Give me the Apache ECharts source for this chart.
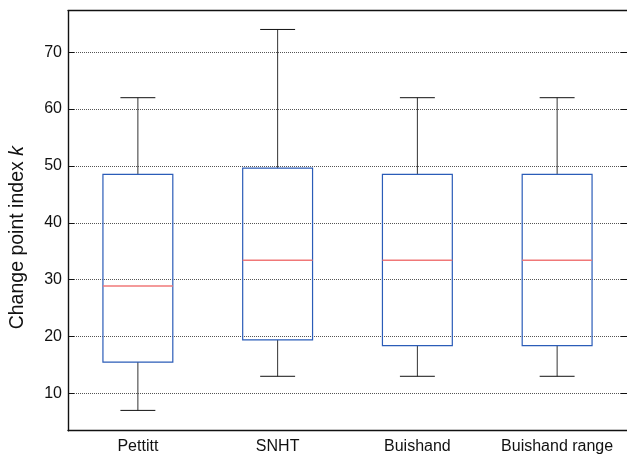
<!DOCTYPE html>
<html>
<head>
<meta charset="utf-8">
<script src="https://cdn.jsdelivr.net/npm/echarts@6/dist/echarts.min.js"></script>
<style>
html,body{margin:0;padding:0;background:#fff;overflow:hidden;}
#chart{width:627px;height:455px;}
</style>
</head>
<body>
<div id="chart"></div>
<script>
var categories = ['Pettitt', 'SNHT', 'Buishand', 'Buishand range'];
var lowerWhisker = [7, 13, 13, 13];
var q1 = [15.5, 19.4, 18.4, 18.4];
var medianVals = [28.9, 33.4, 33.4, 33.4];
var q3 = [48.5, 49.6, 48.5, 48.5];
var upperWhisker = [62, 74, 62, 62];
var yTicks = [10, 20, 30, 40, 50, 60, 70];

var data = categories.map(function (c, i) {
  return [i, lowerWhisker[i], q1[i], medianVals[i], q3[i], upperWhisker[i]];
});

var FONT = 'Liberation Sans, Arial, Helvetica, sans-serif';
var chart = echarts.init(document.getElementById('chart'), null, {renderer: 'canvas'});

function renderBox(params, api) {
  var idx = api.value(0);
  var band = api.size([1, 0])[0];
  var half = band * 0.25;
  var cap = band * 0.125;
  var pLow = api.coord([idx, api.value(1)]);
  var pQ1 = api.coord([idx, api.value(2)]);
  var pMed = api.coord([idx, api.value(3)]);
  var pQ3 = api.coord([idx, api.value(4)]);
  var pHigh = api.coord([idx, api.value(5)]);
  var x = pQ1[0];
  var wStyle = {stroke: '#333', lineWidth: 1, fill: null};
  return {
    type: 'group',
    children: [
      {type: 'line', shape: {x1: x, y1: pQ3[1], x2: x, y2: pHigh[1]}, style: wStyle},
      {type: 'line', shape: {x1: x, y1: pQ1[1], x2: x, y2: pLow[1]}, style: wStyle},
      {type: 'line', shape: {x1: x - cap, y1: pHigh[1], x2: x + cap, y2: pHigh[1]}, style: {stroke: '#111', lineWidth: 1}},
      {type: 'line', shape: {x1: x - cap, y1: pLow[1], x2: x + cap, y2: pLow[1]}, style: {stroke: '#111', lineWidth: 1}},
      {type: 'rect', shape: {x: x - half, y: pQ3[1], width: half * 2, height: pQ1[1] - pQ3[1]},
        style: {stroke: '#2b5cb8', lineWidth: 1.2, fill: null}},
      {type: 'line', shape: {x1: x - half, y1: pMed[1], x2: x + half, y2: pMed[1]},
        style: {stroke: '#f07878', lineWidth: 1.5}}
    ]
  };
}

var option = {
  backgroundColor: '#fff',
  animation: false,
  grid: {left: 66.5, top: 10.7, width: 564, height: 420, show: false},
  xAxis: [{
    type: 'category',
    data: categories,
    boundaryGap: true,
    axisLine: {lineStyle: {color: '#111', width: 1.4}},
    axisTick: {show: false},
    axisLabel: {color: '#111', fontSize: 16, fontFamily: FONT, margin: 8, interval: 0}
  }, {
    type: 'category',
    position: 'top',
    data: categories,
    boundaryGap: true,
    axisLine: {show: true, lineStyle: {color: '#111', width: 1.4}},
    axisTick: {show: false},
    axisLabel: {show: false},
    splitLine: {show: false}
  }],
  yAxis: [{
    type: 'value',
    min: 3.43,
    max: 77.3,
    splitNumber: 7,
    name: '{a|Change point index }{b|k}',
    nameLocation: 'middle',
    nameGap: 40,
    nameRotate: 90,
    nameTextStyle: {
      padding: [0, 34, 0, 0],
      rich: {
        a: {fontSize: 19.5, fontFamily: FONT, color: '#111'},
        b: {fontSize: 19.5, fontFamily: FONT, color: '#111', fontStyle: 'italic'}
      }
    },
    axisLine: {show: true, lineStyle: {color: '#111', width: 1.4}},
    axisTick: {show: true, inside: true, length: 6, lineStyle: {color: '#111'}},
    axisLabel: {color: '#111', fontSize: 16, fontFamily: FONT, margin: 6, showMinLabel: false, showMaxLabel: false,
      formatter: function (v) { return yTicks.indexOf(v) >= 0 ? String(v) : ''; }},
    splitLine: {show: true, lineStyle: {color: '#555', type: 'dotted', width: 1}}
  }, {
    type: 'value',
    position: 'right',
    min: 3.43,
    max: 77.3,
    splitNumber: 7,
    axisLine: {show: false},
    axisTick: {show: true, inside: true, length: 6, lineStyle: {color: '#111'}},
    axisLabel: {show: false},
    splitLine: {show: false}
  }],
  series: [{
    type: 'custom',
    renderItem: renderBox,
    encode: {x: 0, y: [1, 2, 3, 4, 5]},
    data: data,
    z: 5
  }]
};
chart.setOption(option);
</script>
</body>
</html>
